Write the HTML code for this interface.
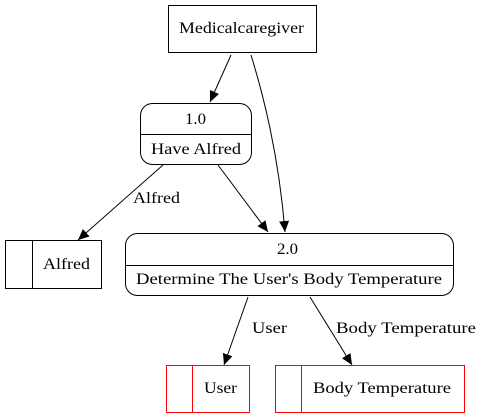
<!DOCTYPE html>
<html><head><style>body{margin:0;background:#fff}svg{display:block}</style></head>
<body>
<svg width="483" height="419" viewBox="0 0 483 419" font-family="'Liberation Serif', 'Times New Roman', serif" font-size="16">
<defs><marker id="a" markerWidth="11" markerHeight="10" refX="11" refY="5" orient="auto" markerUnits="userSpaceOnUse"><path d="M0,0L11,5L0,10z" fill="#000"/></marker></defs>
<g fill="none" stroke="#000" stroke-width="1">
<rect x="168.5" y="5.5" width="148" height="47"/>
<rect x="140.5" y="103.5" width="111" height="61" rx="12"/>
<line x1="140.5" y1="134.5" x2="251.5" y2="134.5"/>
<rect x="5.5" y="240.5" width="96" height="48"/>
<line x1="32.5" y1="240.5" x2="32.5" y2="288.5"/>
<rect x="125.5" y="233.5" width="328" height="62" rx="12"/>
<line x1="125.5" y1="265.5" x2="453.5" y2="265.5"/>
<path d="M231,55L210,102" marker-end="url(#a)"/>
<path d="M251,55C268,110 280,170 285,232" marker-end="url(#a)"/>
<path d="M218,165L268,232" marker-end="url(#a)"/>
<path d="M163,165L78,240" marker-end="url(#a)"/>
<path d="M248,297L224,365" marker-end="url(#a)"/>
<path d="M310,297L352,365" marker-end="url(#a)"/>
</g>
<g fill="none" stroke="#f00">
<rect x="166.5" y="365.5" width="83" height="47"/>
<line x1="192.5" y1="365.5" x2="192.5" y2="412.5"/>
<rect x="275.5" y="365.5" width="189" height="47"/>
<line x1="301.5" y1="365.5" x2="301.5" y2="412.5"/>
</g>
<g lengthAdjust="spacingAndGlyphs">
<text x="179" y="33" textLength="125" lengthAdjust="spacingAndGlyphs">Medicalcaregiver</text>
<text x="185" y="124" textLength="21" lengthAdjust="spacingAndGlyphs">1.0</text>
<text x="151" y="154" textLength="90" lengthAdjust="spacingAndGlyphs">Have Alfred</text>
<text x="43" y="269" textLength="47" lengthAdjust="spacingAndGlyphs">Alfred</text>
<text x="277" y="254" textLength="21" lengthAdjust="spacingAndGlyphs">2.0</text>
<text x="136" y="284" textLength="306" lengthAdjust="spacingAndGlyphs">Determine The User's Body Temperature</text>
<text x="204" y="393" textLength="33" lengthAdjust="spacingAndGlyphs">User</text>
<text x="313" y="393" textLength="138" lengthAdjust="spacingAndGlyphs">Body Temperature</text>
<text x="133" y="203" textLength="47" lengthAdjust="spacingAndGlyphs">Alfred</text>
<text x="252" y="333" textLength="35" lengthAdjust="spacingAndGlyphs">User</text>
<text x="336" y="333" textLength="140" lengthAdjust="spacingAndGlyphs">Body Temperature</text>
</g>
</svg>
</body></html>
